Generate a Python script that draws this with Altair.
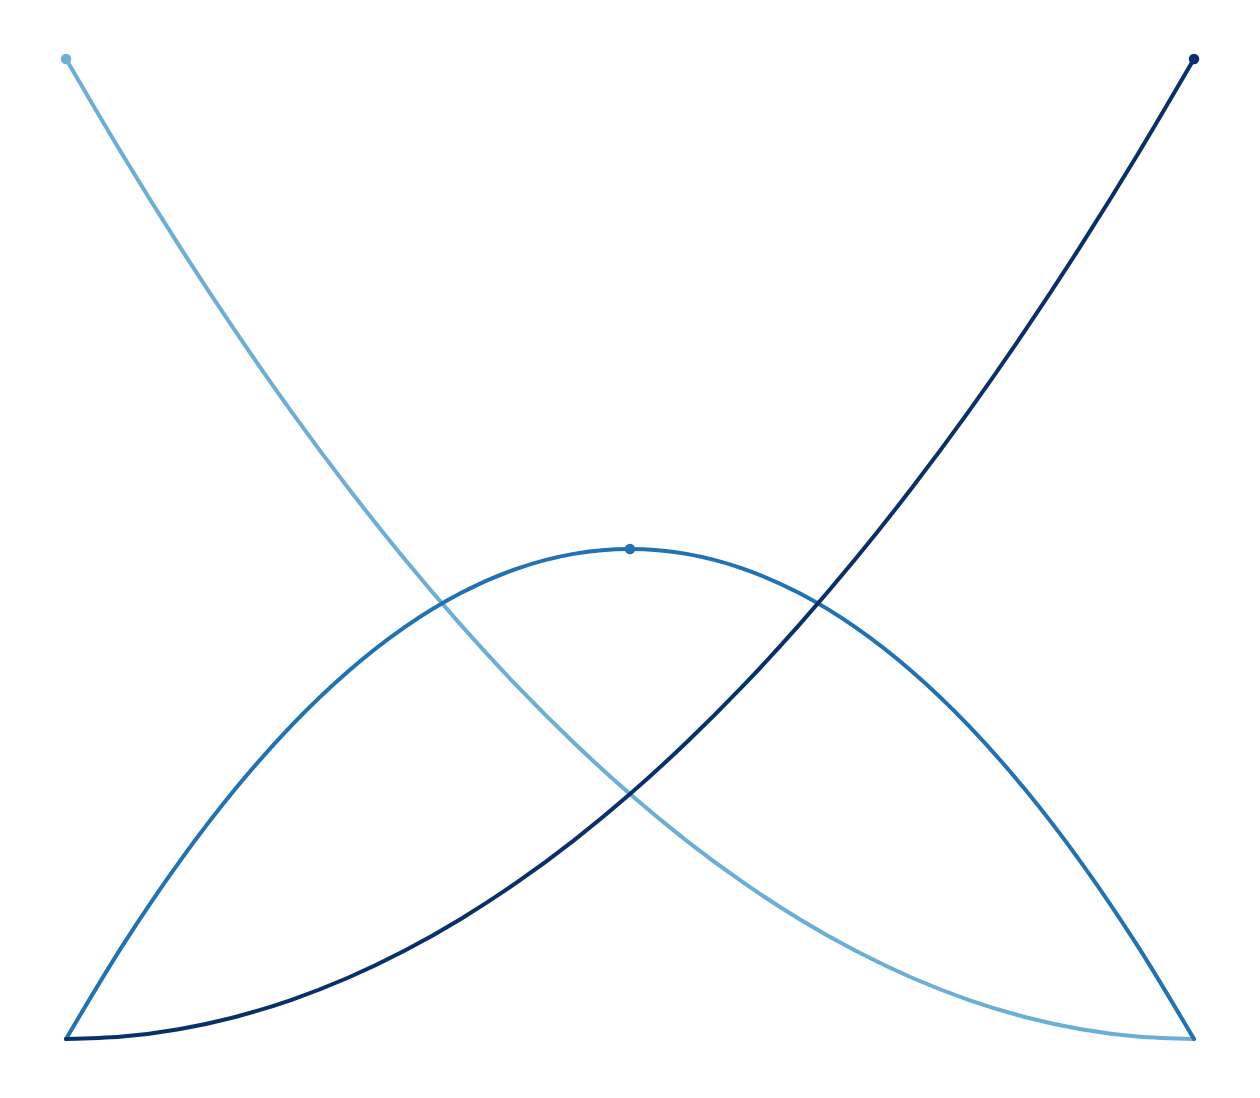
import altair as alt
import pandas as pd

t_values = [0.0, 0.05, 0.1, 0.15, 0.2, 0.25, 0.3, 0.35, 0.4, 0.45, 0.5,
            0.55, 0.6, 0.65, 0.7, 0.75, 0.8, 0.85, 0.9, 0.95, 1.0]
b0 = [1.0, 0.9025, 0.81, 0.7225, 0.64, 0.5625, 0.49, 0.4225, 0.36, 0.3025, 0.25,
      0.2025, 0.16, 0.1225, 0.09, 0.0625, 0.04, 0.0225, 0.01, 0.0025, 0.0]
b1 = [0.0, 0.095, 0.18, 0.255, 0.32, 0.375, 0.42, 0.455, 0.48, 0.495, 0.5,
      0.495, 0.48, 0.455, 0.42, 0.375, 0.32, 0.255, 0.18, 0.095, 0.0]
b2 = [0.0, 0.0025, 0.01, 0.0225, 0.04, 0.0625, 0.09, 0.1225, 0.16, 0.2025, 0.25,
      0.3025, 0.36, 0.4225, 0.49, 0.5625, 0.64, 0.7225, 0.81, 0.9025, 1.0]
series_names = ["b0", "b1", "b2"]
series_colors = ["#6baed6", "#2171b5", "#08306b"]
peak_t = [0.0, 0.5, 1.0]
peak_v = [1.0, 0.5, 1.0]

rows = []
for name, vals in zip(series_names, [b0, b1, b2]):
    for t, v in zip(t_values, vals):
        rows.append({"t": t, "v": v, "s": name})
df = pd.DataFrame(rows)
peaks = pd.DataFrame({"t": peak_t, "v": peak_v, "s": series_names})

x = alt.X("t:Q", scale=alt.Scale(domain=[0, 1], nice=False, zero=False), axis=None)
y = alt.Y("v:Q", scale=alt.Scale(domain=[0, 1], nice=False, zero=False), axis=None)
color = alt.Color("s:N", scale=alt.Scale(domain=series_names, range=series_colors), legend=None)

lines = alt.Chart(df).mark_line(strokeWidth=4, strokeCap="round", interpolate="monotone").encode(
    x=x, y=y, color=color, detail="s:N"
)
points = alt.Chart(peaks).mark_circle(size=110, opacity=1).encode(x=x, y=y, color=color)

chart = alt.layer(lines, points).properties(
    width=1128, height=980,
    padding={"left": 58, "top": 51, "right": 40, "bottom": 30},
    autosize=alt.AutoSizeParams(type="none"),
).configure_view(stroke=None)

chart.save("out.html", embed_options={"renderer": "svg", "actions": False})
